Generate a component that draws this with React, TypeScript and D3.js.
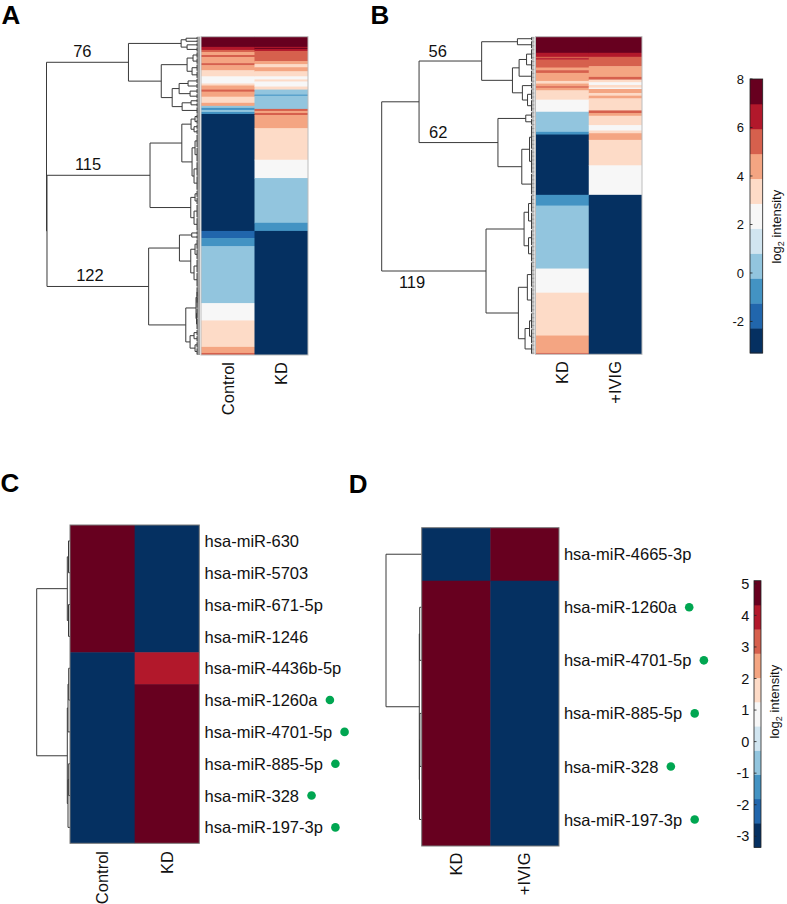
import React from 'react';
import * as d3 from 'd3';

const FONT = '"Liberation Sans", Arial, Helvetica, sans-serif';
const W = 787;
const H = 904;

// RdBu, 11 classes, high (top) to low (bottom)
const paletteTopDown = ['#67001f', '#b2182b', '#d6604d', '#f4a582', '#fddbc7', '#f7f7f7', '#d1e5f0', '#92c5de', '#4393c3', '#2166ac', '#053061'];

// ---------- Panel A (Control vs KD) : run-length rows [count, log2 intensity]
const colsA = ['Control', 'KD'];
const runsAControl: [number, number][] = [[10, 7.5], [3, 6.5], [2, 5.4], [3, 4.4], [2, 5.4], [6, 4.4], [2, 5.4], [5, 4.4], [6, 3.4], [7, 2.3], [2, 3.4], [4, 4.4], [2, 5.4], [5, 4.4], [6, 3.4], [3, 4.4], [2, 0.3], [2, -0.7], [2, 0.3], [2, -0.7], [115, -3], [7, -1.8], [8, -0.7], [56, 0.3], [17, 2.3], [26, 3.4], [6, 4.4], [2, 5.4]];
const runsAKD: [number, number][] = [[10, 7.5], [1, 6.5], [1, 7.5], [2, 6.5], [10, 5.4], [3, 4.4], [3, 3.4], [4, 4.4], [5, 3.4], [3, 2.3], [2, 3.4], [5, 2.3], [3, 3.4], [5, 0.3], [1, -0.7], [13, 0.3], [2, 5.4], [2, 4.4], [2, 5.4], [13, 4.4], [31, 3.4], [18, 2.3], [44, 0.3], [8, -0.7], [122, -3]];
type Tree = number | [number, Tree, Tree];
const treeA: Tree = [154.5,
  [72,
    [19, [14, 3, 3], [13, 4, 5]],
    [39,
      [13, [7, 6, 6], [8, 7, 7]],
      [28, [21, [12, 5, 5], [10, 5, 5]], [18, [9, 4, 4], 7]]]],
  [154,
    [50.3,
      [18.3, [9, [5, 5, 5], [6, 5, 5]], [8, [5, 13, 14], [6, 14, 14]]],
      [9.3, [5, 7, 7], [6, 13, 13]]],
    [51.7,
      [20.7, [8.3, 4, 4], [9.3, [5, 10, 10], [6, 13, 14]]],
      [14.3, [4, [3, 10, 11], [3.5, 10, 11]], [10, [6, 6, 6], [5, 6, 7]]]]]];

// ---------- Panel B (KD vs +IVIG)
const colsB = ['KD', '+IVIG'];
const runsBKD: [number, number][] = [[12, 7.5], [3, 6.5], [1, 5.4], [1, 6.5], [6, 5.4], [2, 4.4], [2, 5.4], [6, 4.4], [2, 3.4], [2, 4.4], [1, 5.4], [2, 4.4], [7, 3.4], [9, 2.3], [15, 0.3], [2, -0.7], [45, -3], [8, -0.7], [47, 0.3], [18, 2.3], [32, 3.4], [13, 4.4], [1, 5.4]];
const runsBIVIG: [number, number][] = [[12, 7.5], [3, 6.5], [7, 5.4], [8, 4.4], [2, 5.4], [2, 3.4], [2, 2.3], [2, 3.4], [1, 2.3], [3, 4.4], [2, 3.4], [2, 4.4], [9, 3.4], [2, 5.4], [2, 4.4], [7, 3.4], [4, 2.3], [2, 3.4], [5, 4.4], [19, 3.4], [22, 2.3], [119, -3]];
const treeB: Tree = [153.8,
  [116.2,
    [53.2, [17.2, 3, 6], [22.2, [15.5, [8, 8, 8], 9], [12.2, 5, [7, 8, 9]]]],
    [36.8, [8.8, 5, 5], [12.8, [5, 18, 18], 16]]],
  [48.8,
    [10.5, [6, 13, 13], [6, 12, 12]],
    [16.2, [7.2, 19, 19], [9.5, [5, 12, 11], 8]]]];

const domainAB: [number, number] = [-3.3, 8];
const ticksAB = [-2, 0, 2, 4, 6, 8];

// ---------- Panel C
const colsC = ['Control', 'KD'];
const genesC = ['hsa-miR-630', 'hsa-miR-5703', 'hsa-miR-671-5p', 'hsa-miR-1246', 'hsa-miR-4436b-5p', 'hsa-miR-1260a', 'hsa-miR-4701-5p', 'hsa-miR-885-5p', 'hsa-miR-328', 'hsa-miR-197-3p'];
const valsCControl = [4.7, 4.7, 4.7, 4.7, -3, -3, -3, -3, -3, -3];
const valsCKD = [-3, -3, -3, -3, 3.9, 4.7, 4.7, 4.7, 4.7, 4.7];
const markedC = [false, false, false, false, false, true, true, true, true, true];
const treeC: Tree = [33.3, [2.7, [1.5, 1, 1], [1.5, 1, 1]], [2.7, [2.0, [1.3, 1, 1], 1], [2.0, [1.3, 1, 1], 1]]];

// ---------- Panel D
const colsD = ['KD', '+IVIG'];
const genesD = ['hsa-miR-4665-3p', 'hsa-miR-1260a', 'hsa-miR-4701-5p', 'hsa-miR-885-5p', 'hsa-miR-328', 'hsa-miR-197-3p'];
const valsDKD = [-3, 4.7, 4.7, 4.7, 4.7, 4.7];
const valsDIVIG = [4.7, -3, -3, -3, -3, -3];
const markedD = [false, true, true, true, true, true];
const treeD: Tree = [35.7, 1, [2.4, [2.0, 1, 1], [2.2, [1.8, 1, 1], 1]]];

const domainCD: [number, number] = [-3.35, 5.1];
const ticksCD = [-3, -2, -1, 0, 1, 2, 3, 4, 5];

// ---------- helpers
const expand = (runs: [number, number][]) => runs.flatMap(([n, v]) => Array(n).fill(v) as number[]);
const colorScale = (domain: [number, number]) => d3.scaleQuantize<string>().domain(domain).range(paletteTopDown.slice().reverse());

type LNode = { h: number; y: number; n: number; first: number; last: number; kids?: LNode[] };
const countLeaves = (t: Tree): number => (typeof t === 'number' ? t : countLeaves(t[1]) + countLeaves(t[2]));

function layoutTree(t: Tree, rowY: (r: number) => number, groupH: number): LNode {
  let i = 0;
  const rec = (t: Tree): LNode => {
    if (typeof t === 'number') {
      const first = i; i += t; const last = i - 1;
      return { h: t > 1 ? groupH : 0, y: (rowY(first) + rowY(last)) / 2, n: t, first, last };
    }
    const a = rec(t[1]); const b = rec(t[2]);
    return { h: t[0], y: (a.y + b.y) / 2, n: a.n + b.n, first: a.first, last: b.last, kids: [a, b] };
  };
  return rec(t);
}

let _ctx: CanvasRenderingContext2D | null = null;
function measure(s: string, size: number) {
  if (!_ctx) _ctx = document.createElement('canvas').getContext('2d');
  if (!_ctx) return s.length * size * 0.55;
  _ctx.font = `${size}px "Liberation Sans"`;
  return _ctx.measureText(s).width;
}

function Dendro({ tree, y0, y1, xLeaf, xRoot, groupH, labels, combW = 0.5 }: {
  tree: Tree; y0: number; y1: number; xLeaf: number; xRoot: number; groupH: number;
  labels?: { path: number[]; dx: number; dy: number }[]; combW?: number;
}) {
  const n = countLeaves(tree);
  const band = d3.scaleBand<number>().domain(d3.range(n)).range([y0, y1]);
  const rowY = (r: number) => (band(r) as number) + band.bandwidth() / 2;
  const root = layoutTree(tree, rowY, groupH);
  const x = d3.scaleLinear().domain([0, root.h]).range([xLeaf, xRoot]);
  const main = d3.path();
  const comb = d3.path();
  const walk = (nd: LNode) => {
    if (nd.kids) {
      const xn = x(nd.h);
      main.moveTo(xn, nd.kids[0].y); main.lineTo(xn, nd.kids[1].y);
      for (const k of nd.kids) { main.moveTo(xn, k.y); main.lineTo(x(k.h), k.y); walk(k); }
    } else if (nd.n > 1) {
      const xg = x(nd.h);
      main.moveTo(xg, rowY(nd.first)); main.lineTo(xg, rowY(nd.last));
      for (let r = nd.first; r <= nd.last; r++) { comb.moveTo(xg, rowY(r)); comb.lineTo(x(0), rowY(r)); }
    }
  };
  walk(root);
  const pick = (p: number[]) => p.reduce((nd: LNode, i) => (nd.kids as LNode[])[i], root);
  return (
    <g>
      <path d={comb.toString()} stroke="#3a3a3a" strokeWidth={combW} fill="none" />
      <path d={main.toString()} stroke="#3a3a3a" strokeWidth={1} fill="none" />
      {labels && labels.map((l, i) => {
        const nd = pick(l.path);
        return <text key={i} x={x(root.h) + l.dx} y={nd.y + l.dy} fontSize={16.5} fontFamily={FONT} fill="#111">{nd.n}</text>;
      })}
    </g>
  );
}

// merge consecutive rows of the same colour into one block, so no seams appear
function blocks(vals: number[], color: (v: number) => string) {
  const out: { start: number; end: number; fill: string }[] = [];
  vals.forEach((v, i) => {
    const f = color(v);
    const last = out[out.length - 1];
    if (last && last.fill === f) last.end = i; else out.push({ start: i, end: i, fill: f });
  });
  return out;
}

function Heat({ x0, x1, y0, y1, cols, values, color, border, labelTop, labelSize = 16.5 }: {
  x0: number; x1: number; y0: number; y1: number; cols: string[]; values: number[][];
  color: (v: number) => string; border: string; labelTop: number; labelSize?: number;
}) {
  const nRows = values[0].length;
  const xs = d3.scaleBand<string>().domain(cols).range([x0, x1]);
  const ys = d3.scaleBand<number>().domain(d3.range(nRows)).range([y0, y1]);
  const bh = ys.bandwidth();
  return (
    <g>
      {cols.map((c, ci) => blocks(values[ci], color).map((b) => (
        <rect key={c + b.start} x={xs(c)} y={ys(b.start)} width={xs.bandwidth() + (ci < cols.length - 1 ? 0.5 : 0)}
          height={(ys(b.end) as number) + bh - (ys(b.start) as number) + (b.end < nRows - 1 ? 0.5 : 0)} fill={b.fill} />
      )))}
      <rect x={x0} y={y0} width={x1 - x0} height={y1 - y0} fill="none" stroke={border} strokeWidth={1} />
      {cols.map((c) => {
        const cx = (xs(c) as number) + xs.bandwidth() / 2;
        return (
          <text key={c} transform={`translate(${cx},${labelTop}) rotate(-90)`} textAnchor="end" dy="0.35em" fontSize={labelSize} fontFamily={FONT} fill="#111">{c}</text>
        );
      })}
    </g>
  );
}

function RowLabels({ x, y0, y1, genes, marked }: { x: number; y0: number; y1: number; genes: string[]; marked: boolean[] }) {
  const ys = d3.scaleBand<number>().domain(d3.range(genes.length)).range([y0, y1]);
  const fs = 16.5;
  return (
    <g>
      {genes.map((g, i) => {
        const cy = (ys(i) as number) + ys.bandwidth() / 2;
        const w = measure(g, fs);
        return (
          <g key={g}>
            <text x={x} y={cy} dy="0.37em" fontSize={fs} fontFamily={FONT} fill="#111">{g}</text>
            {marked[i] && <circle cx={x + w + 12.5} cy={cy} r={4.3} fill="#00a651" />}
          </g>
        );
      })}
    </g>
  );
}

function ColorBar({ x, w, y0, y1, domain, ticks, tickSize, tickGap, labelX, labelY }: {
  x: number; w: number; y0: number; y1: number; domain: [number, number]; ticks: number[];
  tickSize: number; tickGap: number; labelX: number; labelY: number;
}) {
  const y = d3.scaleLinear().domain(domain).range([y1, y0]);
  const q = colorScale(domain);
  const th = [domain[0], ...q.thresholds(), domain[1]];
  const colors = q.range();
  return (
    <g>
      {colors.map((c, i) => (
        <rect key={i} x={x} y={y(th[i + 1])} width={w} height={y(th[i]) - y(th[i + 1]) + 0.4} fill={c} />
      ))}
      <rect x={x} y={y0} width={w} height={y1 - y0} fill="none" stroke="#222" strokeWidth={0.8} />
      {ticks.map((t) => (
        <g key={t}>
          <line x1={x} x2={x + 2.5} y1={y(t)} y2={y(t)} stroke="#222" strokeWidth={0.8} />
          <text x={x - tickGap} y={y(t)} dy="0.36em" textAnchor="end" fontSize={tickSize} fontFamily={FONT} fill="#111">{t}</text>
        </g>
      ))}
      <text transform={`translate(${labelX},${labelY}) rotate(-90)`} textAnchor="middle" fontSize={13} fontFamily={FONT} fill="#111">
        log<tspan fontSize={9} dy={3}>2</tspan><tspan dy={-3}> intensity</tspan>
      </text>
    </g>
  );
}

export default function App() {
  const cAB = colorScale(domainAB);
  const cCD = colorScale(domainCD);
  const letter = (s: string, x: number, y: number) => (
    <text x={x} y={y} fontSize={26} fontWeight="bold" fontFamily={FONT} fill="#000">{s}</text>
  );
  return (
    <svg width={W} height={H} style={{ position: 'absolute', left: 0, top: 0, background: '#fff' }}>
      <rect width={W} height={H} fill="#fff" />
      {letter('A', 1.5, 24)}
      {letter('B', 370.5, 24)}
      {letter('C', 0.5, 491.5)}
      {letter('D', 348.8, 492.5)}

      {/* Panel A */}
      <Dendro tree={treeA} y0={36.7} y1={355} xLeaf={200} xRoot={46.5} groupH={3}
        labels={[{ path: [0], dx: 26.7, dy: -5 }, { path: [1, 0], dx: 28.4, dy: -5.5 }, { path: [1, 1], dx: 29.7, dy: -5 }]} />
      <Heat x0={201} x1={308} y0={36.7} y1={355} cols={colsA} values={[expand(runsAControl), expand(runsAKD)]} color={cAB} border="#bdbdbd" labelTop={362} />

      {/* Panel B */}
      <Dendro tree={treeB} y0={36.7} y1={354.3} xLeaf={534.5} xRoot={381.7} groupH={3}
        labels={[{ path: [0, 0], dx: 46.9, dy: -3.6 }, { path: [0, 1], dx: 47.3, dy: -4.5 }, { path: [1], dx: 17.2, dy: 17 }]} />
      <Heat x0={535.5} x1={642} y0={36.7} y1={354.3} cols={colsB} values={[expand(runsBKD), expand(runsBIVIG)]} color={cAB} border="#bdbdbd" labelTop={361} />

      <ColorBar x={750} w={12.7} y0={79} y1={353} domain={domainAB} ticks={ticksAB} tickSize={13} tickGap={6} labelX={781} labelY={226.7} />

      {/* Panel C */}
      <Dendro tree={treeC} y0={525} y1={843.3} xLeaf={70} xRoot={36.7} groupH={0} />
      <Heat x0={70} x1={199.3} y0={525} y1={843.3} cols={colsC} values={[valsCControl, valsCKD]} color={cCD} border="#7a7a7a" labelTop={851} />
      <RowLabels x={204.6} y0={525} y1={843.3} genes={genesC} marked={markedC} />

      {/* Panel D */}
      <Dendro tree={treeD} y0={527.7} y1={846} xLeaf={421.7} xRoot={386} groupH={0} />
      <Heat x0={421.7} x1={559} y0={527.7} y1={846} cols={colsD} values={[valsDKD, valsDIVIG]} color={cCD} border="#7a7a7a" labelTop={852.5} />
      <RowLabels x={563.9} y0={527.7} y1={846} genes={genesD} marked={markedD} />

      <ColorBar x={754} w={7} y0={580.7} y1={847.3} domain={domainCD} ticks={ticksCD} tickSize={14.5} tickGap={4.7} labelX={778.5} labelY={701.7} />
    </svg>
  );
}
